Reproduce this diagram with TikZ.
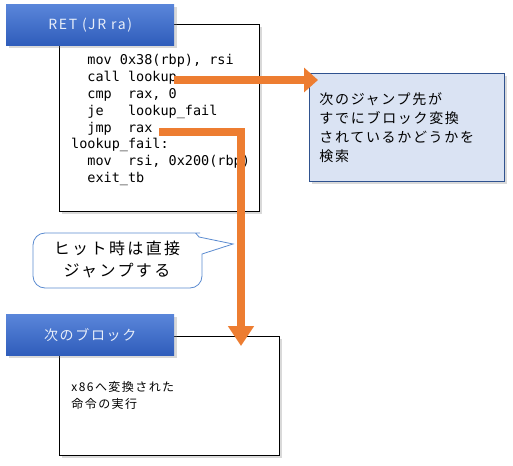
\documentclass[tikz,border=0pt]{standalone}
\usepackage{fontspec}
\setmainfont{Noto Sans CJK JP}
\setmonofont{DejaVu Sans Mono}
\newfontfamily\widejp[LetterSpace=12]{Noto Sans CJK JP}
\newfontfamily\widerjp[LetterSpace=15]{Noto Sans CJK JP}
\usepackage{tikz}
\usetikzlibrary{arrows.meta,shadows}
\definecolor{hdtop}{HTML}{5A86DA}
\definecolor{hdbot}{HTML}{2F5DBB}
\definecolor{hdtext}{HTML}{E8EEF9}
\definecolor{notefill}{HTML}{DAE3F3}
\definecolor{noteline}{HTML}{2F528F}
\definecolor{bubbleline}{HTML}{5B8BD0}
\definecolor{jumporange}{HTML}{ED7D31}
\newcommand\ind{\hphantom{xx}}

\begin{document}
\begin{tikzpicture}[x=1pt,y=-1pt,
  boxshadow/.style={drop shadow={opacity=.3,shadow xshift=2.5pt,shadow yshift=-2.5pt}},
  codebox/.style={draw=black,fill=white,line width=.8pt,boxshadow,anchor=north west},
  hdbox/.style={top color=hdtop,bottom color=hdbot,text=hdtext,boxshadow,
    minimum width=168,minimum height=41,anchor=north west,font=\fontsize{14}{16}\selectfont\widejp},
  notebox/.style={draw=noteline,fill=notefill,line width=.8pt,boxshadow,anchor=north west},
  codetext/.style={align=left,inner sep=0pt,anchor=north west,
    font=\fontsize{13.5}{16.8}\selectfont\ttfamily},
  jumparrow/.style={draw=jumporange,line width=8.5pt,line join=miter}]
\useasboundingbox (0,0) rectangle (513,465);
% objects at depth 100:
\node[codebox,minimum width=200,minimum height=187] (retbody) at (59,24) {};
\node[codebox,minimum width=220,minimum height=119,inner xsep=12pt,text width=196,align=left,
  font=\fontsize{12}{17}\selectfont\widejp] (nextbody) at (59,336) {x86へ変換された\\命令の実行};
\node[notebox,minimum width=195,minimum height=108,inner xsep=10pt,text width=175,align=left,
  font=\fontsize{14}{19}\selectfont\widejp] (lookupnote) at (309,73)
  {次のジャンプ先が\\すでにブロック変換\\されているかどうかを\\検索};
% objects at depth 75:
\node[hdbox] (rethead) at (6,4) {RET (JR ra)};
\node[hdbox] (nexthead) at (6,314) {次のブロック};
\node[codetext] (code) at (71,54.5) {\ind mov~0x38(rbp),~rsi\\
  \ind call~lookup\\
  \ind cmp~~rax,~0\\
  \ind je~~~lookup\_fail\\
  \ind jmp~~rax\\
  lookup\_fail:\\
  \ind mov~~rsi,~0x200(rbp)\\
  \ind exit\_tb};
% objects at depth 50:
\path[draw=bubbleline,fill=white,line width=.8pt] (188,233) to[out=0,in=120] (199,237)
  -- (233,244) -- (202,254) [rounded corners=12] -- (202,288) -- (33,288) -- (33,233) -- cycle;
\node[align=center,font=\fontsize{16}{22}\selectfont\widerjp] (hitnote) at (117,259)
  {ヒット時は直接\\ジャンプする};
% objects at depth 25:
\coordinate (callend) at (174,80);
\coordinate (jmpend) at (159,132);
\coordinate (jumptip) at (241,346);
\draw[jumparrow,-{Triangle[length=14pt,width=24pt]}] (callend)
  -- ([xshift=9pt]lookupnote.west |- callend);
\draw[jumparrow,-{Triangle[length=20pt,width=25pt]}] (jmpend) -| (jumptip);
\end{tikzpicture}
\end{document}
